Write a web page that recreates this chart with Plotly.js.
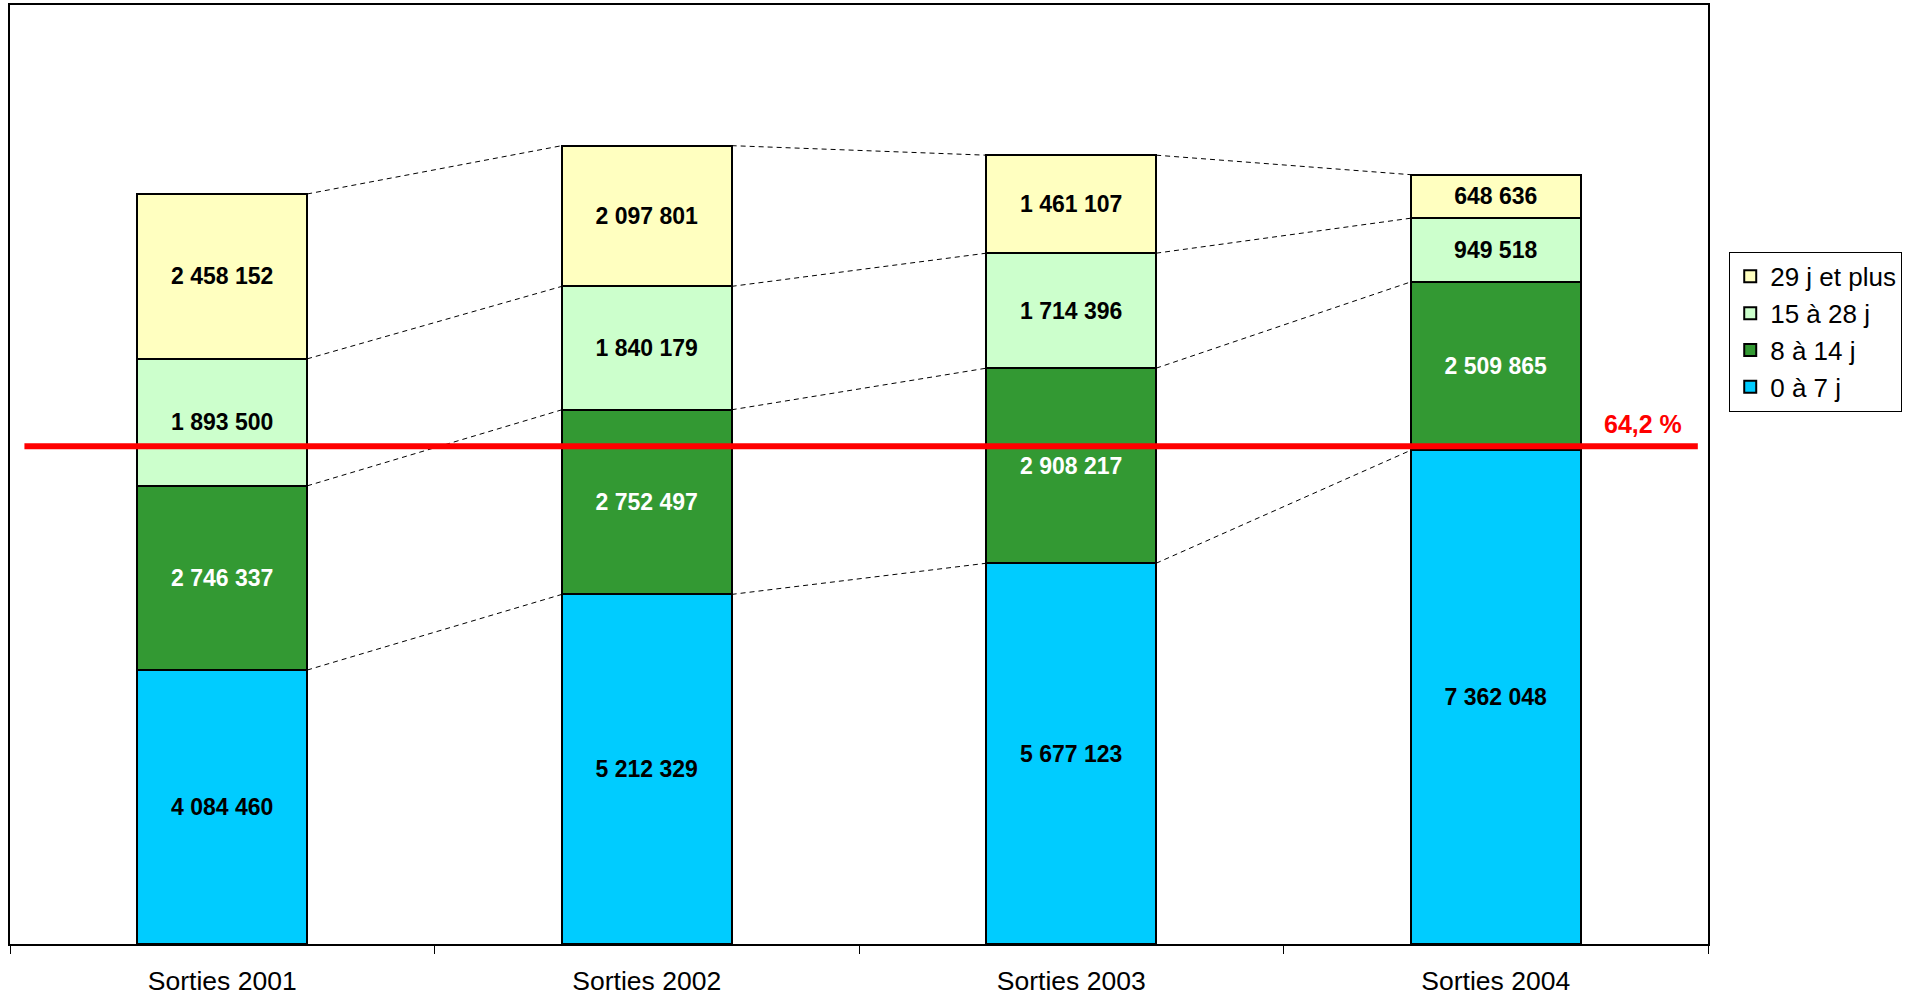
<!DOCTYPE html>
<html>
<head>
<meta charset="utf-8">
<script src="https://cdn.plot.ly/plotly-3.0.1.min.js"></script>
<style>html,body{margin:0;padding:0;background:#fff;}#chart{width:1914px;height:997px;}</style>
</head>
<body>
<div id="chart"></div>
<script>
// ---- data ----
const categories = ['Sorties 2001', 'Sorties 2002', 'Sorties 2003', 'Sorties 2004'];
const seriesNames = ['0 à 7 j', '8 à 14 j', '15 à 28 j', '29 j et plus'];
const days0to7 = [4084460, 5212329, 5677123, 7362048];
const days8to14 = [2746337, 2752497, 2908217, 2509865];
const days15to28 = [1893500, 1840179, 1714396, 949518];
const days29plus = [2458152, 2097801, 1461107, 648636];
const shareLabel = '64,2 %';
const shareLineValue = 7420000;

// ---- styling ----
const FONT = 'Liberation Sans, Arial, sans-serif';
const colors = ['#00CCFF', '#339933', '#CCFFCC', '#FFFFC0'];
const textColors = ['#000000', '#FFFFFF', '#000000', '#000000'];
const barWidth = 0.4;
const xPos = categories.map((_, i) => i);

function fmt(n) { return String(n).replace(/\B(?=(\d{3})+(?!\d))/g, ' '); }

const series = [days0to7, days8to14, days15to28, days29plus];
const traces = [];

// connector (series) lines
const cum = [];
let running = categories.map(() => 0);
series.forEach(s => { running = running.map((v, i) => v + s[i]); cum.push(running.slice()); });
const lx = [], ly = [];
cum.forEach(level => {
  for (let i = 0; i < categories.length - 1; i++) {
    lx.push(xPos[i] + barWidth / 2, xPos[i + 1] - barWidth / 2, null);
    ly.push(level[i], level[i + 1], null);
  }
});
traces.push({
  type: 'scatter', mode: 'lines', x: lx, y: ly, showlegend: false, hoverinfo: 'skip',
  line: { color: '#000000', width: 1, dash: '5px,4px' }
});

series.forEach((s, k) => {
  traces.push({
    type: 'bar', name: seriesNames[k], x: xPos, y: s, width: barWidth,
    legendrank: 100 - k,
    marker: { color: colors[k], line: { color: '#000000', width: 2 } },
    text: s.map(fmt), textposition: 'inside', insidetextanchor: 'middle', textangle: 0,
    constraintext: 'none',
    insidetextfont: { family: FONT, size: 23, color: textColors[k], weight: 'bold' },
    hoverinfo: 'skip'
  });
});

const layout = {
  width: 1914, height: 997,
  margin: { l: 10, r: 206, t: 5, b: 53 },
  paper_bgcolor: '#ffffff', plot_bgcolor: '#ffffff',
  barmode: 'stack',
  showlegend: true,
  font: { family: FONT, color: '#000000' },
  xaxis: {
    range: [-0.5, 3.5], tickmode: 'array', tickvals: xPos, ticktext: categories,
    ticks: '', showgrid: false, zeroline: false,
    showline: true, mirror: true, linecolor: '#000000', linewidth: 2,
    tickfont: { family: FONT, size: 26.5, color: '#000000' },
    ticklabelstandoff: 12,
    minor: { tickmode: 'array', tickvals: [-0.5, 0.5, 1.5, 2.5, 3.5], ticks: 'outside', ticklen: 8, tickwidth: 1, tickcolor: '#000000', showgrid: false },
    fixedrange: true
  },
  yaxis: {
    range: [0, 14000000], showticklabels: false, ticks: '', showgrid: false, zeroline: false,
    showline: true, mirror: true, linecolor: '#000000', linewidth: 2, fixedrange: true
  },
  legend: {
    x: 1.0125, xanchor: 'left', y: 0.737, yanchor: 'top',
    bordercolor: '#000000', borderwidth: 1, bgcolor: '#ffffff',
    font: { family: FONT, size: 26, color: '#000000' },
    traceorder: 'normal'
  },
  shapes: [{
    type: 'line', xref: 'paper', yref: 'y', x0: 0.0085, x1: 0.994,
    y0: shareLineValue, y1: shareLineValue, layer: 'above',
    line: { color: '#FF0000', width: 6 }
  }],
  annotations: [{
    xref: 'paper', yref: 'paper', x: 0.9617, y: 0.5538, xanchor: 'center', yanchor: 'middle',
    text: '<b>' + shareLabel + '</b>', showarrow: false,
    font: { family: FONT, size: 25, color: '#FF0000' }
  }]
};

Plotly.newPlot('chart', traces, layout, { displayModeBar: false, staticPlot: true });
</script>
</body>
</html>
